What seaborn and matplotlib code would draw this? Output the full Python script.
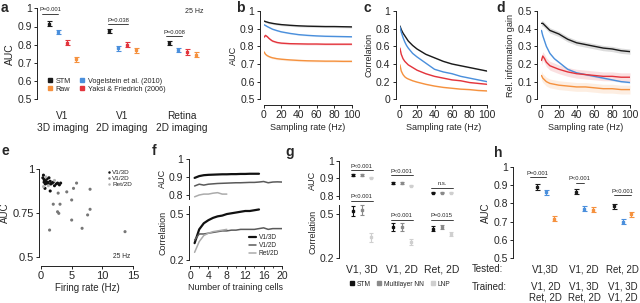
import numpy as np
import pandas as pd
import matplotlib
matplotlib.use("Agg")
import matplotlib.pyplot as plt
import seaborn as sns
from matplotlib.lines import Line2D
from matplotlib import transforms

# ── Data ──────────────────────────────────────────────────────────────────────
# panel a: AUC at 25 Hz per dataset
a_groups = ["V1\n3D imaging", "V1\n2D imaging", "Retina\n2D imaging"]
a_stm = [0.915, 0.875, 0.81]
a_vog = [0.87, 0.78, 0.77]
a_yak = [0.81, 0.80, 0.76]
a_raw = [0.72, 0.77, 0.745]
a_err = [0.013, 0.012, 0.014, 0.014]

# panels b-d: performance vs sampling rate
rates = [0.5, 2, 4, 6, 8, 10, 15, 20, 30, 40, 50, 60, 70, 80, 90, 100]
b_stm = [0.943, 0.940, 0.937, 0.934, 0.932, 0.930, 0.926, 0.923, 0.919, 0.916, 0.914, 0.913, 0.912, 0.912, 0.911, 0.910]
b_vog = [0.922, 0.918, 0.912, 0.907, 0.902, 0.897, 0.889, 0.882, 0.873, 0.866, 0.862, 0.859, 0.857, 0.856, 0.855, 0.854]
b_yak = [0.852, 0.862, 0.855, 0.845, 0.837, 0.830, 0.822, 0.818, 0.815, 0.814, 0.813, 0.813, 0.812, 0.812, 0.812, 0.812]
b_raw = [0.768, 0.755, 0.747, 0.742, 0.738, 0.735, 0.730, 0.727, 0.723, 0.720, 0.718, 0.717, 0.716, 0.716, 0.715, 0.715]
c_stm = [0.83, 0.79, 0.75, 0.72, 0.69, 0.66, 0.61, 0.57, 0.51, 0.47, 0.43, 0.40, 0.38, 0.36, 0.34, 0.32]
c_vog = [0.82, 0.76, 0.70, 0.65, 0.61, 0.58, 0.52, 0.48, 0.41, 0.34, 0.31, 0.29, 0.26, 0.24, 0.22, 0.20]
c_yak = [0.58, 0.51, 0.46, 0.43, 0.41, 0.39, 0.36, 0.33, 0.29, 0.26, 0.24, 0.22, 0.21, 0.19, 0.18, 0.17]
c_raw = [0.39, 0.32, 0.28, 0.255, 0.24, 0.23, 0.21, 0.195, 0.17, 0.15, 0.135, 0.125, 0.115, 0.11, 0.10, 0.095]
d_stm = [0.43, 0.43, 0.42, 0.41, 0.40, 0.39, 0.38, 0.37, 0.34, 0.32, 0.31, 0.30, 0.29, 0.285, 0.275, 0.27]
d_vog = [0.39, 0.36, 0.33, 0.30, 0.28, 0.26, 0.23, 0.21, 0.17, 0.15, 0.14, 0.13, 0.12, 0.11, 0.10, 0.095]
d_yak = [0.22, 0.245, 0.23, 0.21, 0.20, 0.19, 0.18, 0.17, 0.155, 0.145, 0.14, 0.135, 0.13, 0.13, 0.125, 0.125]
d_raw = [0.135, 0.12, 0.11, 0.10, 0.095, 0.09, 0.085, 0.08, 0.075, 0.07, 0.07, 0.065, 0.06, 0.06, 0.055, 0.055]
band_b = [0.006, 0.004, 0.006, 0.006]
band_c = [0.006, 0.004, 0.006, 0.006]
band_d = [0.015, 0.005, 0.025, 0.025]

# panel e: AUC vs firing rate
e_rate_3d = [0.3, 0.4, 0.5, 0.5, 0.6, 0.7, 0.8, 0.9, 1.0, 1.1, 1.2, 1.3, 1.5, 1.6, 1.8, 2.0, 2.2, 2.5, 2.7, 3.0, 3.2, 0.65, 1.5]
e_auc_3d = [0.95, 0.965, 0.94, 0.925, 0.935, 0.915, 0.93, 0.92, 0.945, 0.925, 0.915, 0.95, 0.93, 0.915, 0.92, 0.925, 0.905, 0.915, 0.92, 0.91, 0.92, 0.89, 0.875]
e_rate_2d = [2.8, 4.2, 5.3, 5.8, 8.0, 5.0, 2.0, 3.1, 2.7, 2.9, 8.0, 7.6, 5.0, 1.4, 6.7, 13.7]
e_auc_2d = [0.863, 0.87, 0.89, 0.92, 0.885, 0.824, 0.80, 0.80, 0.757, 0.748, 0.771, 0.739, 0.71, 0.653, 0.663, 0.644]
e_rate_ret = [0.8, 1.2, 2.2, 0.4]
e_auc_ret = [0.955, 0.905, 0.935, 0.90]

# panel f: performance vs number of training cells
f_auc_3d = [0.895, 0.905, 0.91, 0.912, 0.913, 0.914, 0.915, 0.915, 0.916, 0.916, 0.917, 0.917, 0.918, 0.918, 0.918]
f_auc_2d = [0.85, 0.86, 0.855, 0.86, 0.862, 0.864, 0.865, 0.866, 0.867, 0.868, 0.868, 0.869, 0.87, 0.87, 0.872, 0.875, 0.868, 0.872, 0.873, 0.872]
f_auc_ret = [0.79, 0.80, 0.805, 0.805, 0.81, 0.813, 0.805, 0.805]
f_cor_3d = [0.31, 0.40, 0.44, 0.46, 0.475, 0.485, 0.49, 0.50, 0.505, 0.51, 0.515, 0.52, 0.52, 0.525, 0.53]
f_cor_2d = [0.33, 0.37, 0.37, 0.375, 0.38, 0.385, 0.39, 0.39, 0.395, 0.395, 0.40, 0.40, 0.40, 0.40, 0.405, 0.41, 0.40, 0.405, 0.405, 0.405]
f_cor_ret = [0.25, 0.32, 0.36, 0.375, 0.385, 0.39, 0.395, 0.40]

# panel g: STM vs multilayer NN vs LNP
g_groups = ["V1, 3D", "V1, 2D", "Ret, 2D"]
g_auc_stm = [0.92, 0.875, 0.82]
g_auc_nn = [0.92, 0.875, 0.82]
g_auc_lnp = [0.905, 0.86, 0.82]
g_cor_stm = [0.52, 0.41, 0.40]
g_cor_nn = [0.525, 0.41, 0.41]
g_cor_lnp = [0.34, 0.31, 0.365]
g_cor_err = [[0.035, 0.025, 0.015], [0.035, 0.025, 0.015], [0.03, 0.02, 0.015]]

# panel h: cross-dataset training
h_tested = ["V1,3D", "V1, 2D", "Ret, 2D"]
h_trained = ["V1, 2D\nRet, 2D", "V1, 3D\nRet, 2D", "V1, 3D\nV1, 2D"]
h_stm = [0.89, 0.865, 0.785]
h_vog = [0.86, 0.77, 0.70]
h_raw = [0.715, 0.765, 0.74]

# ── Style ─────────────────────────────────────────────────────────────────────
sns.set_theme(style="ticks")
plt.rcParams["font.family"] = ["Liberation Sans", "DejaVu Sans"]
plt.rcParams.update({
    "axes.linewidth": 0.7, "xtick.major.width": 0.7, "ytick.major.width": 0.7,
    "xtick.major.size": 2.2, "ytick.major.size": 2.2,
    "xtick.minor.size": 1.5, "xtick.minor.width": 0.6,
    "xtick.labelsize": 7.5, "ytick.labelsize": 7.5,
    "xtick.major.pad": 1.5, "ytick.major.pad": 1.5,
    "axes.labelsize": 6.5, "axes.labelpad": 1.5,
    "axes.edgecolor": "#222222",
})

BLACK, BLUE, RED, ORANGE = "#1a1a1a", "#4a8fdc", "#e3343c", "#f5913e"
COLS4 = [BLACK, BLUE, RED, ORANGE]

W, H = 640, 303
fig = plt.figure(figsize=(6.4, 3.03), dpi=100)


def px_axes(l, t, r, b):
    return fig.add_axes([l / W, 1 - b / H, (r - l) / W, (b - t) / H])


def offset_spines(ax, left=0, bottom=0):
    sns.despine(ax=ax)
    ax.spines["left"].set_position(("outward", left * 0.72))
    ax.spines["bottom"].set_position(("outward", bottom * 0.72))


def letter(x, y, s):
    fig.text(x / W, 1 - y / H, s, fontsize=10, fontweight="bold", va="center", ha="left")


def pbar(ax, x0, x1, y, s, dy=0.008):
    ax.plot([x0, x1], [y, y], color="#222222", lw=0.6, clip_on=False)
    ax.text((x0 + x1) / 2, y + dy, s, ha="center", va="bottom", fontsize=4.2, clip_on=False)


def points(ax, x, vals, col, err, cap=1.8):
    ax.errorbar(x, vals, yerr=err, fmt="s", ms=1.7, color=col, ecolor=col,
                elinewidth=0.8, capsize=cap, capthick=0.8, clip_on=False)


# ── a ─────────────────────────────────────────────────────────────────────────
ax = px_axes(37, 8.3, 206, 99.3)
offs = [-0.225, -0.075, 0.075, 0.225]
pos = np.arange(len(a_groups))
for vals, col, off, err in zip([a_stm, a_vog, a_yak, a_raw], COLS4, offs, a_err):
    points(ax, pos + off, vals, col, err)
ax.set_xlim(-0.425, 2.4)
ax.set_ylim(0.5, 1.0)
ax.set_yticks([0.5, 0.6, 0.7, 0.8, 0.9, 1.0], ["0.5", "0.6", "0.7", "0.8", "0.9", "1"])
ax.set_xticks(pos, a_groups, fontsize=7.3, linespacing=1.2)
ax.tick_params(axis="x", length=0, pad=8.5)
ax.set_ylabel("AUC", labelpad=2, fontsize=7.5)
sns.despine(ax=ax, bottom=True)
pbar(ax, -0.34, -0.075, 0.969, "P=0.001")
pbar(ax, 0.77, 1.1, 0.912, "P=0.038")
pbar(ax, 1.73, 2.0, 0.848, "P=0.008")
ax.text(2.2, 0.98, "25 Hz", fontsize=5, ha="center", va="center")
hnd = [Line2D([], [], ls="", marker="s", ms=2.5, color=c) for c in [BLACK, ORANGE, BLUE, RED]]
ax.legend(hnd, ["STM", "Raw", "Vogelstein et al. (2010)", "Yaksi & Friedrich (2006)"],
          ncol=2, fontsize=5.2, frameon=False, handlelength=0.8, handletextpad=0.4,
          columnspacing=1.2, labelspacing=0.15, loc="lower left",
          bbox_to_anchor=(0.02, 0.0))
letter(1, 8, "a")

# ── b, c, d ───────────────────────────────────────────────────────────────────
names = ["STM", "Vogelstein", "Yaksi", "Raw"]
panels = [
    ((263.7, 11, 351.7, 99.3), [b_stm, b_vog, b_yak, b_raw], band_b, (0.5, 1.0),
     [0.5, 0.6, 0.7, 0.8, 0.9, 1.0], ["0.5", "0.6", "0.7", "0.8", "0.9", "1"], "AUC", "b", 236),
    ((399.5, 11, 487, 99.3), [c_stm, c_vog, c_yak, c_raw], band_c, (0.0, 1.0),
     [0, 0.2, 0.4, 0.6, 0.8, 1.0], ["0", "0.2", "0.4", "0.6", "0.8", "1"], "Correlation", "c", 364),
    ((541, 11, 630, 99.3), [d_stm, d_vog, d_yak, d_raw], band_d, (0.0, 0.5),
     [0, 0.1, 0.2, 0.3, 0.4, 0.5], ["0", "0.1", "0.2", "0.3", "0.4", "0.5"], "Rel. information gain", "d", 496),
]
for rect, series, bands, ylim, yt, ytl, ylab, let, lx in panels:
    ax = px_axes(*rect)
    for vals, col, bw, nm in zip(series, COLS4, bands, names):
        v = np.array(vals)
        ax.fill_between(rates, v - bw, v + bw, color=col, alpha=0.15, lw=0)
        sns.lineplot(x=rates, y=vals, color=col, lw=1.0, ax=ax)
    ax.set_xlim(0, 100)
    ax.set_ylim(*ylim)
    ax.set_yticks(yt, ytl)
    ax.set_xticks([0, 20, 40, 60, 80, 100])
    ax.set_xlabel("Sampling rate (Hz)")
    ax.set_ylabel(ylab)
    offset_spines(ax, left=4, bottom=6)
    letter(lx, 8, let)

# ── e ─────────────────────────────────────────────────────────────────────────
ax = px_axes(41, 169, 133, 257)
df_e = pd.DataFrame({
    "rate": e_rate_3d + e_rate_2d + e_rate_ret,
    "auc": e_auc_3d + e_auc_2d + e_auc_ret,
    "set": ["V1/3D"] * len(e_rate_3d) + ["V1/2D"] * len(e_rate_2d) + ["Ret/2D"] * len(e_rate_ret),
})
sns.scatterplot(data=df_e, x="rate", y="auc", hue="set",
                palette={"V1/3D": "#111111", "V1/2D": "#777777", "Ret/2D": "#b5b5b5"},
                s=5, linewidth=0, ax=ax, clip_on=False)
ax.set_xlim(0, 15)
ax.set_ylim(0.5, 1.0)
ax.set_xticks([0, 5, 10, 15])
ax.set_yticks([0.5, 0.75, 1.0], ["0.5", "0.75", "1"])
ax.tick_params(labelsize=8)
ax.set_xlabel("Firing rate (Hz)", fontsize=7)
ax.set_ylabel("AUC", fontsize=7)
offset_spines(ax, left=2, bottom=9)
ax.legend(fontsize=4.6, frameon=False, markerscale=0.8, handletextpad=0.1,
          labelspacing=0.1, handlelength=0.8, loc="upper right",
          bbox_to_anchor=(1.05, 1.06))
ax.text(14.5, 0.5, "25 Hz", fontsize=4.8, ha="right", va="center")
letter(2, 151, "e")

# ── f ─────────────────────────────────────────────────────────────────────────
F_COLS = ["#111111", "#5a5a5a", "#ababab"]
F_LW = [1.6, 1.1, 1.1]
ax_t = px_axes(190, 159, 282, 198.6)
ax_b = px_axes(190, 206.4, 282, 260)
for vals, col, lw in zip([f_auc_3d, f_auc_2d, f_auc_ret], F_COLS, F_LW):
    sns.lineplot(x=np.arange(1, len(vals) + 1), y=vals, color=col, lw=lw, ax=ax_t)
for vals, col, lw, nm in zip([f_cor_3d, f_cor_2d, f_cor_ret], F_COLS, F_LW, ["V1/3D", "V1/2D", "Ret/2D"]):
    sns.lineplot(x=np.arange(1, len(vals) + 1), y=vals, color=col, lw=lw, ax=ax_b, label=nm)
ax_t.set_xlim(0, 20)
ax_t.set_ylim(0.78, 1.0)
ax_t.set_yticks([0.8, 0.9, 1.0], ["0.8", "0.9", "1"])
ax_t.set_ylabel("AUC")
ax_t.set_xticks([])
sns.despine(ax=ax_t, bottom=True)
ax_t.spines["left"].set_position(("outward", 1))
ax_b.set_xlim(0, 20)
ax_b.set_ylim(0.2, 0.55)
ax_b.set_yticks([0.2, 0.5], ["0.2", "0.5"])
ax_b.set_xticks([0, 4, 8, 12, 16, 20])
ax_b.set_xticks(np.arange(2, 20, 4), minor=True)
ax_b.set_ylabel("Correlation")
ax_b.set_xlabel("Number of training cells")
offset_spines(ax_b, left=1, bottom=6)
ax_b.legend(fontsize=4.7, frameon=False, handlelength=1.0, handletextpad=0.4,
            labelspacing=0.15, loc="lower right", bbox_to_anchor=(1.03, -0.05))
letter(152, 151, "f")

# ── g ─────────────────────────────────────────────────────────────────────────
G_COLS = ["#111111", "#8a8a8a", "#cfcfcf"]
goffs = [-0.225, 0.0, 0.225]
gpos = np.arange(len(g_groups))
ag_t = px_axes(339, 161, 458, 199.5)
ag_b = px_axes(339, 205, 458, 258)
for vals, col, off in zip([g_auc_stm, g_auc_nn, g_auc_lnp], G_COLS, goffs):
    points(ag_t, gpos + off, vals, col, 0.004, cap=1.6)
for vals, col, off, err in zip([g_cor_stm, g_cor_nn, g_cor_lnp], G_COLS, goffs, g_cor_err):
    points(ag_b, gpos + off, vals, col, err, cap=1.6)
for a_ in (ag_t, ag_b):
    a_.set_xlim(-0.57, 2.4)
    sns.despine(ax=a_, bottom=True)
ag_t.set_ylim(0.78, 1.0)
ag_t.set_yticks([0.8, 0.9, 1.0], ["0.8", "0.9", "1"])
ag_t.set_xticks([])
ag_t.set_ylabel("AUC")
ag_b.set_ylim(0.2, 0.56)
ag_b.set_yticks([0.2, 0.5], ["0.2", "0.5"])
ag_b.set_xticks(gpos, g_groups, fontsize=7.5)
ag_b.tick_params(axis="x", length=0, pad=5)
ag_b.set_ylabel("Correlation")
pbar(ag_t, -0.27, 0.27, 0.949, "P<0.001")
pbar(ag_t, 0.73, 1.27, 0.92, "P<0.001")
pbar(ag_t, 1.73, 2.27, 0.847, "n.s.")
pbar(ag_b, -0.27, 0.27, 0.588, "P<0.001", dy=0.012)
pbar(ag_b, 0.73, 1.27, 0.46, "P<0.001", dy=0.012)
pbar(ag_b, 1.73, 2.27, 0.46, "P=0.015", dy=0.012)
hnd = [Line2D([], [], ls="", marker="s", ms=2.5, color=c) for c in G_COLS]
fig.legend(hnd, ["STM", "Multilayer NN", "LNP"], ncol=3, fontsize=4.8, frameon=False,
           handlelength=0.6, handletextpad=0.4, columnspacing=1.0, loc="center left",
           bbox_to_anchor=(344 / W, 1 - 284 / H))
letter(285, 152, "g")

# ── h ─────────────────────────────────────────────────────────────────────────
ah = px_axes(513, 167, 640, 258)
hoffs = [-0.22, 0.0, 0.22]
hpos = np.arange(len(h_tested))
for vals, col, off in zip([h_stm, h_vog, h_raw], [BLACK, BLUE, ORANGE], hoffs):
    points(ah, hpos + off, vals, col, 0.014)
ah.set_xlim(-0.85, 2.45)
ah.set_ylim(0.5, 1.0)
ah.set_yticks([0.5, 0.6, 0.7, 0.8, 0.9, 1.0], ["0.5", "0.6", "0.7", "0.8", "0.9", "1"])
ah.set_xticks(hpos, h_tested, fontsize=7)
ah.tick_params(axis="x", length=0, pad=5)
ah.set_ylabel("AUC", fontsize=7)
sns.despine(ax=ah, bottom=True)
pbar(ah, -0.42, 0.0, 0.945, "P=0.001")
pbar(ah, 0.78, 1.0, 0.914, "P<0.001")
pbar(ah, 1.78, 2.22, 0.846, "P<0.001")
tr = transforms.blended_transform_factory(ah.transData, fig.transFigure)
for x, s in zip(hpos, h_trained):
    ah.text(x, 1 - 292 / H, s, transform=tr, fontsize=7, ha="center", va="center",
            linespacing=1.05)
fig.text(472 / W, 1 - 269 / H, "Tested:", fontsize=7, ha="left", va="center")
fig.text(472 / W, 1 - 287 / H, "Trained:", fontsize=7, ha="left", va="center")
letter(494, 153, "h")

fig.savefig("out.png", dpi=100)
